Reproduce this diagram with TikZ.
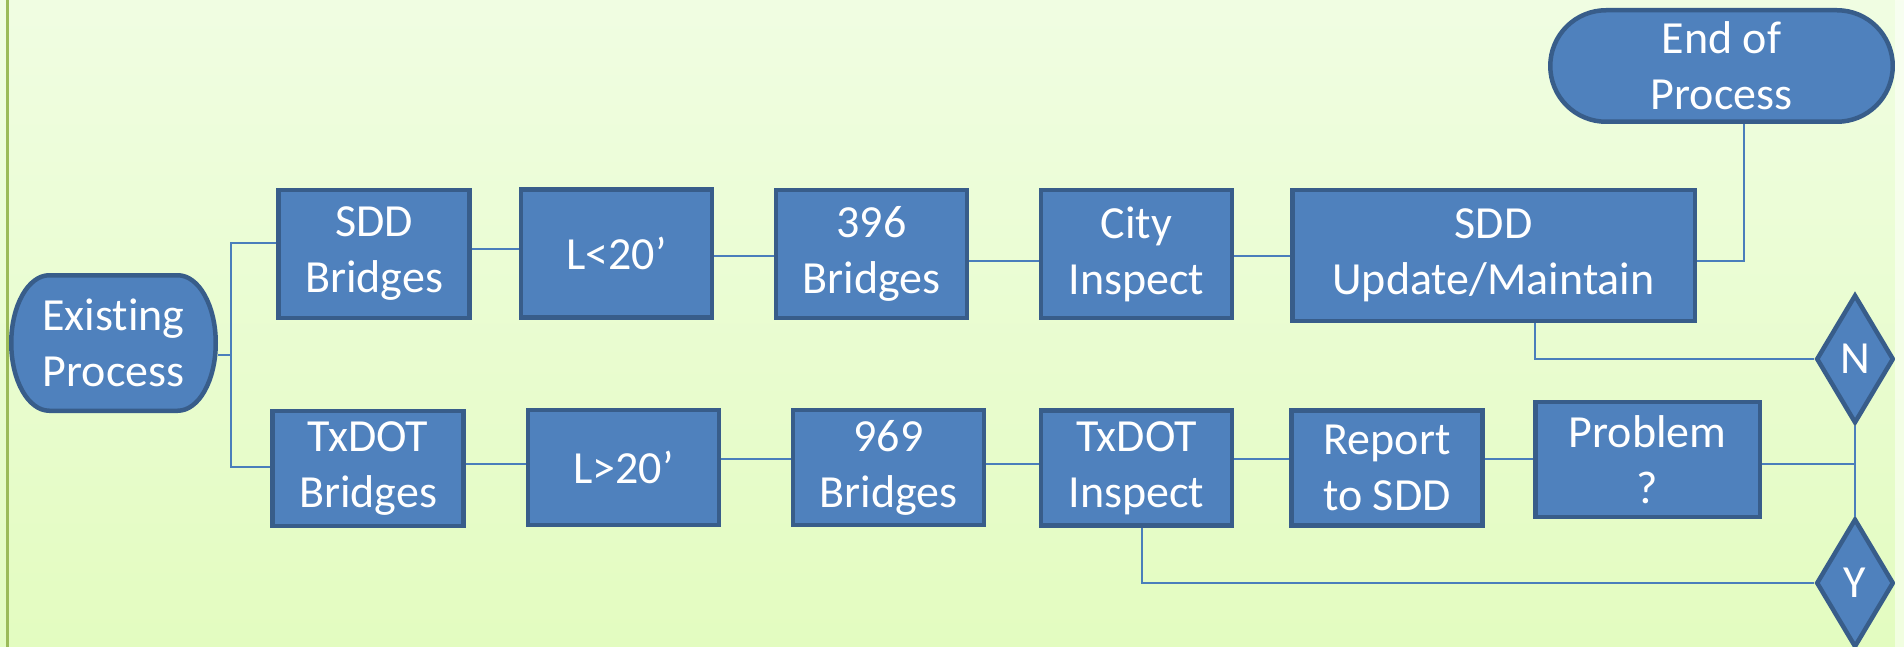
\documentclass[tikz,border=0pt]{standalone}
\usepackage{fontspec}
\setmainfont{Carlito}[Ligatures={NoCommon,TeX}]
\usetikzlibrary{positioning,shapes.geometric}

\definecolor{boxfill}{RGB}{79,129,189}
\definecolor{boxedge}{RGB}{56,93,138}
\definecolor{linkcol}{RGB}{74,126,187}
\definecolor{bgtop}{RGB}{240,253,226}
\definecolor{bgbot}{RGB}{227,252,192}
\definecolor{leftbar}{RGB}{155,187,89}

\tikzset{
  box/.style={rectangle,fill=boxfill,draw=boxedge,line width=4.5pt,inner sep=0pt,
    text=white,align=center,font=\fontsize{46pt}{56pt}\selectfont,
    minimum width=191pt,minimum height=127.5pt},
  lowbox/.style={box,minimum height=115pt},
  term/.style={box,rounded corners=45pt},
  termshape/.style={fill=boxfill,draw=boxedge,line width=4.5pt},
  choice/.style={diamond,fill=boxfill,draw=boxedge,line width=4.5pt,inner sep=0pt,
    text=white,font=\fontsize{46pt}{56pt}\selectfont,
    minimum width=77.5pt,minimum height=128.5pt},
  link/.style={draw=linkcol,line width=2.5pt},
}

\begin{document}
\begin{tikzpicture}[x=1pt,y=-1pt,line join=miter]
  \useasboundingbox (0,0) rectangle (1904,647);
  \shade[top color=bgtop,bottom color=bgbot] (0,0) rectangle (1904,647);
  \draw[leftbar,line width=3pt] (7,0) -- (7,647);
%%
  % Node: Existing
  \draw[termshape] (49.25,275.25) -- (177.75,275.25)
    arc[start angle=90,end angle=-90,x radius=38pt,y radius=67.75pt] -- (49.25,410.75)
    arc[start angle=270,end angle=90,x radius=38pt,y radius=67.75pt] -- cycle;
  \node[box,draw=none,fill=none,minimum width=204.5pt,minimum height=135.5pt] (exist) at (113.5,343) {Existing\\Process};
  % Node: End
  \node[term,rounded corners=55.75pt,minimum width=342.5pt,minimum height=111.5pt] (endp) at (1721.5,66) {End of\\Process};
  % Nodes: upper row
  \node[box] (sddb) at (374,254) {SDD\\Bridges};
  \node[box] (lless) at (616.5,253.5) {L<20’};
  \node[box] (b396) at (871.5,254) {396\\Bridges};
  \node[box] (city) at (1136.5,254) {City\\Inspect};
  \node[box,minimum width=402.5pt,minimum height=130.5pt] (upd) at (1493.5,255.5) {SDD\\Update/Maintain};
  % Nodes: lower row
  \node[lowbox] (txb) at (368,468.5) {TxDOT\\Bridges};
  \node[lowbox] (lgt) at (623.5,467.5) {L>20’};
  \node[lowbox] (b969) at (888.5,467.5) {969\\Bridges};
  \node[lowbox] (txi) at (1136.5,468) {TxDOT\\Inspect};
  \node[lowbox] (rep) at (1387,468) {Report\\to SDD};
  \node[lowbox,minimum width=224.5pt] (prob) at (1647.5,459.5) {Problem\\?};
  % Nodes: decisions
  \node[choice] (ndia) at (1855,359) {N};
  \node[choice] (ydia) at (1855,583) {Y};
  \coordinate (fork) at (231,355);
%%
  % Edge: exist -> sddb, txb
  \draw[link] ([yshift=-12pt]exist.east) -- (fork);
  \draw[link] (fork) |- ([yshift=11pt]sddb.west);
  \draw[link] (fork) |- ([yshift=1.5pt]txb.west);
  % Edge: sddb -> lless -> b396 -> city -> upd
  \draw[link] ([yshift=5pt]sddb.east) -- ([yshift=4.5pt]lless.west);
  \draw[link] ([yshift=-2.5pt]lless.east) -- ([yshift=-2pt]b396.west);
  \draw[link] ([yshift=-7pt]b396.east) -- ([yshift=-7pt]city.west);
  \draw[link] ([yshift=-2pt]city.east) -- ([yshift=-0.5pt]upd.west);
  % Edge: upd -> endp
  \draw[link] ([yshift=-5.5pt]upd.east) -| ([xshift=22.5pt]endp.south);
  % Edge: upd -> ndia
  \draw[link] ([xshift=41.5pt]upd.south) |- (ndia.west);
  % Edge: txb -> lgt -> b969 -> txi -> rep -> prob
  \draw[link] ([yshift=4.5pt]txb.east) -- ([yshift=3.5pt]lgt.west);
  \draw[link] ([yshift=8.5pt]lgt.east) -- ([yshift=8.5pt]b969.west);
  \draw[link] ([yshift=3.5pt]b969.east) -- ([yshift=4pt]txi.west);
  \draw[link] ([yshift=9pt]txi.east) -- ([yshift=9pt]rep.west);
  \draw[link] ([yshift=9pt]rep.east) -- ([yshift=0.5pt]prob.west);
  % Edge: prob -> ndia, ydia
  \draw[link] (ndia.south) -- (ydia.north);
  \draw[link] ([yshift=-4.5pt]prob.east) -- ([yshift=-4.5pt]prob.east -| ndia.south);
  % Edge: txi -> ydia
  \draw[link] ([xshift=5.5pt]txi.south) |- (ydia.west);
%
  % slide edge on the right
  \shade[top color=bgtop!50!white,bottom color=bgbot!50!white] (1895,0) rectangle (1904,647);
\end{tikzpicture}
\end{document}
